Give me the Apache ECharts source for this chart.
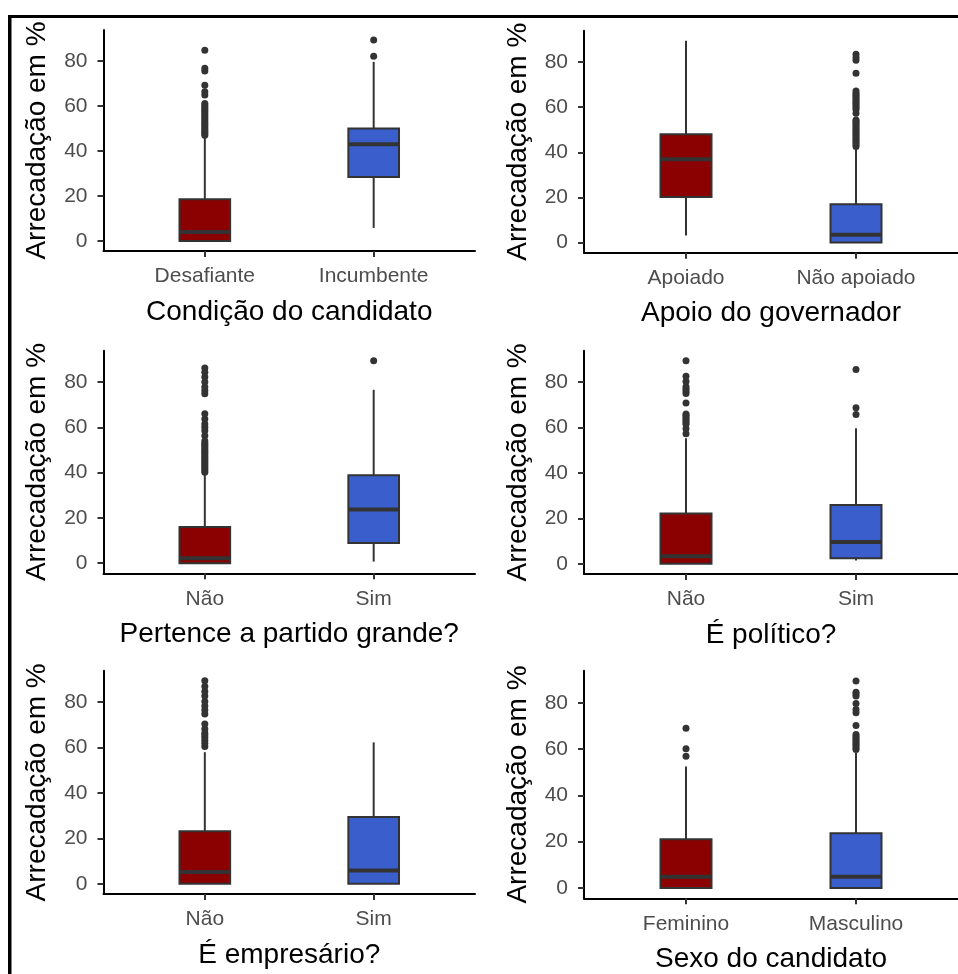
<!DOCTYPE html>
<html>
<head>
<meta charset="utf-8">
<script src="https://cdn.jsdelivr.net/npm/echarts@6/dist/echarts.min.js"></script>
<style>
  html, body { margin: 0; padding: 0; background: #fff; }
  #chart { width: 958px; height: 974px; }
</style>
</head>
<body>
<div id="chart"></div>
<script>
// ---------------- DATA ----------------
const yTitle = "Arrecadação em %";
const yTicks = [0, 20, 40, 60, 80];
const panelTitles = [
  "Condição do candidato",
  "Apoio do governador",
  "Pertence a partido grande?",
  "É político?",
  "É empresário?",
  "Sexo do candidato"
];
const categoryLabels = [
  ["Desafiante", "Incumbente"],
  ["Apoiado", "Não apoiado"],
  ["Não", "Sim"],
  ["Não", "Sim"],
  ["Não", "Sim"],
  ["Feminino", "Masculino"]
];
// [whisker low, Q1, median, Q3, whisker high] for each category
const boxStats = [
  [[0, 0, 4.0, 18.6, 46.5], [5.8, 28.5, 43.0, 50.0, 79.7]],
  [[3.2, 20.2, 36.9, 48.0, 89.4], [0, 0, 3.5, 17.0, 42.1]],
  [[0, 0, 2.2, 16.0, 39.7], [0.7, 8.9, 23.7, 38.9, 76.6]],
  [[0, 0, 3.3, 22.2, 55.3], [1.5, 2.5, 9.6, 25.9, 59.7]],
  [[0, 0, 5.2, 23.2, 58.0], [0, 0, 5.9, 29.4, 62.3]],
  [[0, 0, 4.8, 21.0, 52.5], [0, 0, 4.8, 23.6, 58.3]]
];
const outliers = [
  [
    [47.0, 47.8, 48.5, 49.3, 50.1, 51.0, 51.8, 52.6, 53.4, 54.3, 55.2, 56.0, 56.9, 57.7, 58.6, 59.4, 60.3, 61.2, 64.9, 66.4, 69.3, 75.6, 76.8, 84.9],
    [82.2, 89.4]
  ],
  [
    [],
    [42.6, 43.4, 44.2, 45.0, 45.8, 46.6, 47.4, 48.2, 49.0, 49.8, 50.6, 51.4, 52.2, 53.0, 53.8, 54.3, 57.3, 59.0, 59.8, 60.6, 61.4, 62.2, 63.0, 63.8, 64.6, 65.4, 66.2, 67.2, 75.0, 80.8, 82.0, 83.4]
  ],
  [
    [40.2, 41.0, 41.8, 42.6, 43.4, 44.2, 45.0, 45.8, 46.6, 47.4, 48.2, 49.0, 49.8, 50.6, 51.4, 52.2, 53.0, 54.0, 56.3, 58.5, 60.0, 61.5, 63.7, 66.0, 74.8, 76.3, 77.8, 80.0, 82.2, 84.4, 86.2],
    [89.4]
  ],
  [
    [57.3, 59.5, 61.5, 62.3, 63.1, 63.9, 64.7, 65.4, 66.0, 70.8, 75.0, 76.0, 77.0, 78.0, 80.3, 82.6, 89.4],
    [65.8, 68.7, 85.6]
  ],
  [
    [60.5, 61.9, 63.2, 64.5, 65.5, 66.4, 68.2, 70.4, 74.8, 76.6, 78.3, 80.3, 82.7, 84.7, 86.9, 89.4],
    []
  ],
  [
    [56.9, 60.1, 69.0],
    [59.8, 60.6, 61.4, 62.2, 63.0, 63.8, 64.6, 65.4, 66.3, 70.2, 75.7, 77.1, 79.7, 82.9, 83.8, 84.6, 89.4]
  ]
];
const dataMax = 89.4;
const boxColors = ["#8B0000", "#3A5FCD"];

// ---------------- LAYOUT / STYLE ----------------
const FONT = "'Liberation Sans', Arial, sans-serif";
const grids = [
  { left: 103.5, top: 30, width: 371.5, height: 221 },
  { left: 584, top: 30.7, width: 374, height: 222 },
  { left: 103.5, top: 350.7, width: 371.5, height: 222.6 },
  { left: 584, top: 350.7, width: 374, height: 223.3 },
  { left: 103.5, top: 670.7, width: 371.5, height: 223.3 },
  { left: 584, top: 670.7, width: 374, height: 227.6 }
];
const BOX_W = 0.3;
const yMin = -0.05 * dataMax, yMax = 1.05 * dataMax;

const option = {
  animation: false,
  backgroundColor: '#fff',
  grid: [], xAxis: [], yAxis: [], series: [],
  graphic: [
    { type: 'rect', shape: { x: 8, y: 15, width: 950, height: 3 }, style: { fill: '#000' }, silent: true },
    { type: 'rect', shape: { x: 8, y: 15, width: 3.5, height: 959 }, style: { fill: '#000' }, silent: true }
  ]
};

function renderBox(params, api) {
  const x = api.value(0);
  const lo = api.coord([x, api.value(1)]);
  const q1 = api.coord([x, api.value(2)]);
  const md = api.coord([x, api.value(3)]);
  const q3 = api.coord([x, api.value(4)]);
  const hi = api.coord([x, api.value(5)]);
  const hw = api.size([BOX_W, 0])[0] / 2;
  const fill = api.visual('color');
  const ls = { stroke: '#333333', lineWidth: 2 };
  return {
    type: 'group',
    children: [
      { type: 'line', shape: { x1: q3[0], y1: q3[1], x2: hi[0], y2: hi[1] }, style: ls },
      { type: 'line', shape: { x1: lo[0], y1: lo[1], x2: q1[0], y2: q1[1] }, style: ls },
      { type: 'rect', shape: { x: q1[0] - hw, y: q3[1], width: hw * 2, height: q1[1] - q3[1] },
        style: { fill: fill, stroke: '#333333', lineWidth: 2 } },
      { type: 'line', shape: { x1: md[0] - hw, y1: md[1], x2: md[0] + hw, y2: md[1] },
        style: { stroke: '#333333', lineWidth: 4 } }
    ]
  };
}

for (let i = 0; i < 6; i++) {
  option.grid.push(Object.assign({ outerBoundsMode: 'none', containLabel: false }, grids[i]));
  const cats = categoryLabels[i];
  option.xAxis.push({
    gridIndex: i, type: 'value', min: 0.4, max: 2.6,
    name: panelTitles[i], nameLocation: 'middle', nameGap: 47,
    nameTextStyle: { fontFamily: FONT, fontSize: 28, color: '#000' },
    axisLine: { show: true, onZero: false, lineStyle: { color: '#000', width: 2 } },
    axisTick: { show: true, length: 6, customValues: [1, 2], lineStyle: { color: '#333', width: 2 } },
    axisLabel: { show: true, customValues: [1, 2], margin: 15, fontFamily: FONT, fontSize: 21, color: '#4D4D4D',
      formatter: function (v) { return cats[Math.round(v) - 1] || ''; } },
    splitLine: { show: false }
  });
  option.yAxis.push({
    gridIndex: i, type: 'value', min: yMin, max: yMax,
    name: yTitle, nameLocation: 'middle', nameGap: 52, nameRotate: 90,
    nameTextStyle: { fontFamily: FONT, fontSize: 28, color: '#000' },
    axisLine: { show: true, onZero: false, lineStyle: { color: '#000', width: 2 } },
    axisTick: { show: true, length: 6, customValues: yTicks, lineStyle: { color: '#333', width: 2 } },
    axisLabel: { show: true, customValues: yTicks, margin: 16, fontFamily: FONT, fontSize: 21, color: '#4D4D4D' },
    splitLine: { show: false }
  });
  option.series.push({
    type: 'custom', xAxisIndex: i, yAxisIndex: i,
    renderItem: renderBox,
    encode: { x: 0, y: [1, 2, 3, 4, 5] },
    data: boxStats[i].map(function (s, k) {
      return { value: [k + 1].concat(s), itemStyle: { color: boxColors[k] } };
    }),
    z: 2
  });
  const pts = [];
  outliers[i].forEach(function (arr, k) { arr.forEach(function (v) { pts.push([k + 1, v]); }); });
  option.series.push({
    type: 'scatter', xAxisIndex: i, yAxisIndex: i,
    data: pts, symbol: 'circle', symbolSize: 7,
    itemStyle: { color: '#333333', opacity: 1 },
    z: 3
  });
}

const chart = echarts.init(document.getElementById('chart'), null, { renderer: 'canvas' });
chart.setOption(option);
</script>
</body>
</html>
